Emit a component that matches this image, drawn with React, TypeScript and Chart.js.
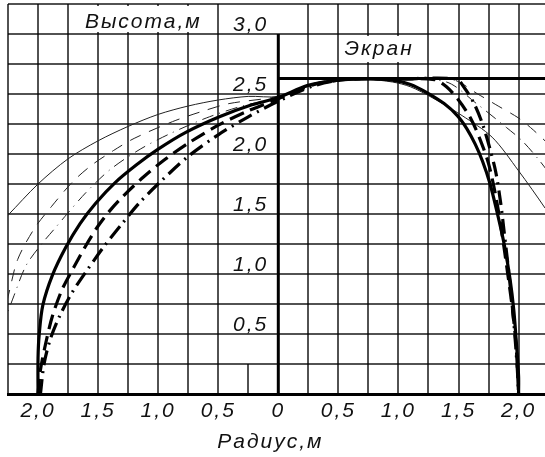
import React, { useEffect, useRef } from "react";
import { Chart, registerables } from "chart.js";

Chart.register(...registerables);

// ---- data (radius r, height h) ----
const thinSolid: [number, number][] = [
  [-2.32, 1.42], [-2.25, 1.49], [-2.0, 1.75], [-1.75, 1.96], [-1.5, 2.11], [-1.25, 2.23],
  [-1.0, 2.33], [-0.75, 2.4], [-0.5, 2.45], [-0.25, 2.48], [0, 2.48], [0.25, 2.57],
  [0.5, 2.61], [0.75, 2.62], [0.95, 2.6], [1.1, 2.56], [1.28, 2.47], [1.53, 2.32],
  [1.78, 2.14], [2.0, 1.86], [2.22, 1.55], [2.3, 1.42],
];
const thinDashed: [number, number][] = [
  [-2.3, 0.6], [-2.24, 0.85], [-2.17, 1.12], [-2.03, 1.38], [-1.89, 1.56], [-1.71, 1.77],
  [-1.55, 1.91], [-1.37, 2.03], [-1.2, 2.13], [-0.88, 2.27], [-0.65, 2.35], [-0.41, 2.42],
  [0, 2.48], [0.3, 2.58], [0.6, 2.62], [1.0, 2.62], [1.45, 2.62], [1.66, 2.5],
  [1.83, 2.4], [2.0, 2.3], [2.1, 2.22], [2.22, 2.11], [2.3, 2.03],
];
const thinDashDot: [number, number][] = [
  [-2.3, 0.55], [-2.2, 0.82], [-2.1, 1.07], [-1.97, 1.25], [-1.86, 1.38], [-1.75, 1.51],
  [-1.6, 1.68], [-1.4, 1.87], [-1.15, 2.04], [-0.9, 2.17], [-0.6, 2.3], [-0.3, 2.4],
  [0, 2.47], [0.3, 2.58], [0.6, 2.62], [1.0, 2.62], [1.4, 2.6], [1.65, 2.42],
  [1.9, 2.22], [2.03, 2.11], [2.17, 1.95], [2.3, 1.78],
];
const thickSolid: [number, number][] = [
  [-2.0, 0], [-2.0, 0.3], [-1.99, 0.5], [-1.96, 0.74], [-1.88, 0.99], [-1.77, 1.22],
  [-1.65, 1.42], [-1.52, 1.59], [-1.36, 1.76], [-1.18, 1.91], [-1.0, 2.04], [-0.77, 2.18],
  [-0.49, 2.31], [-0.22, 2.41], [0, 2.47], [0.24, 2.57], [0.5, 2.615], [0.75, 2.625],
  [0.95, 2.615], [1.1, 2.58], [1.24, 2.51], [1.38, 2.42], [1.49, 2.32], [1.57, 2.21],
  [1.64, 2.08], [1.7, 1.94], [1.76, 1.76], [1.82, 1.52], [1.88, 1.25], [1.93, 0.95],
  [1.96, 0.7], [1.98, 0.45], [2.0, 0.15], [2.0, 0],
];
const thickDashed: [number, number][] = [
  [-2.0, 0], [-1.98, 0.2], [-1.93, 0.45], [-1.88, 0.65], [-1.8, 0.87], [-1.7, 1.06],
  [-1.6, 1.24], [-1.5, 1.4], [-1.4, 1.53], [-1.28, 1.66], [-1.12, 1.81], [-0.95, 1.95],
  [-0.75, 2.09], [-0.5, 2.24], [-0.25, 2.36], [0, 2.46], [0.3, 2.58],
  [0.6, 2.625], [1.0, 2.625], [1.3, 2.62], [1.4, 2.56], [1.5, 2.45], [1.6, 2.3],
  [1.68, 2.12], [1.75, 1.92], [1.81, 1.65], [1.86, 1.35], [1.91, 1.0], [1.95, 0.7],
  [1.98, 0.4], [2.0, 0],
];
const thickDashDot: [number, number][] = [
  [-1.98, 0], [-1.95, 0.25], [-1.9, 0.45], [-1.82, 0.65], [-1.72, 0.84], [-1.6, 1.02],
  [-1.45, 1.23], [-1.3, 1.42], [-1.15, 1.6], [-0.98, 1.77], [-0.75, 1.98], [-0.5, 2.16],
  [-0.25, 2.31], [0, 2.44], [0.3, 2.57], [0.6, 2.625], [1.0, 2.625], [1.48, 2.625],
  [1.55, 2.55], [1.63, 2.42], [1.7, 2.25], [1.76, 2.05], [1.81, 1.85], [1.85, 1.6],
  [1.88, 1.35], [1.92, 1.0], [1.96, 0.6], [1.99, 0.2], [2.0, 0],
];
const screenLine: [number, number][] = [[0, 2.63], [2.3, 2.63]];
const heightAxisLine: [number, number][] = [[0, 0], [0, 3.0]];

const xTickValues = [-2.0, -1.5, -1.0, -0.5, 0, 0.5, 1.0, 1.5, 2.0];
const xTickLabels = ["2,0", "1,5", "1,0", "0,5", "0", "0,5", "1,0", "1,5", "2,0"];
const yTickValues = [0.5, 1.0, 1.5, 2.0, 2.5, 3.0];
const yTickLabels = ["0,5", "1,0", "1,5", "2,0", "2,5", "3,0"];
const xTitle = "Радиус,м";
const yTitle = "Высота,м";
const screenLabel = "Экран";

const GRID_COLOR = "rgba(0,0,0,0.68)";
const FONT = 'italic 21px "Liberation Sans", Arial, sans-serif';

const toXY = (arr: [number, number][]) => arr.map(([x, y]) => ({ x, y }));

function makeTicks(min: number, max: number, step: number) {
  const out: { value: number }[] = [];
  for (let v = min; v <= max + 1e-9; v += step) out.push({ value: Math.round(v * 100) / 100 });
  return out;
}

const overlayPlugin = {
  id: "overlay",
  beforeDatasetsDraw(chart: any) {
    const { ctx, chartArea } = chart;
    const x = chart.scales.x;
    const y = chart.scales.y;
    ctx.save();
    ctx.strokeStyle = GRID_COLOR;
    ctx.lineWidth = 2;
    const px = Math.round(x.getPixelForValue(-0.25));
    ctx.beginPath();
    ctx.moveTo(px, y.getPixelForValue(0));
    ctx.lineTo(px, y.getPixelForValue(0.25));
    ctx.stroke();

    ctx.font = FONT;
    (ctx as any).letterSpacing = "2px";
    ctx.fillStyle = "#111";
    ctx.textBaseline = "alphabetic";

    ctx.textAlign = "right";
    const x0 = x.getPixelForValue(0);
    yTickValues.forEach((v, i) => {
      ctx.fillText(yTickLabels[i], x0 - 10, y.getPixelForValue(v) - 3);
    });

    ctx.textAlign = "center";
    xTickValues.forEach((v, i) => {
      ctx.fillText(xTickLabels[i], x.getPixelForValue(v), chartArea.bottom + 23);
    });

    ctx.fillText(xTitle, x0 - 8, chartArea.bottom + 54);

    ctx.textAlign = "left";
    const yl = x.getPixelForValue(-1.61);
    const yw = ctx.measureText(yTitle).width;
    const yTop = y.getPixelForValue(3.25);
    const y30 = y.getPixelForValue(3.0);
    ctx.fillStyle = "#fff";
    ctx.fillRect(yl - 5, yTop + 2, yw + 10, y30 - yTop - 4);
    ctx.fillStyle = "#111";
    ctx.fillText(yTitle, yl, y30 - 6);

    const sl = x.getPixelForValue(0.55);
    const sw = ctx.measureText(screenLabel).width;
    const y275 = y.getPixelForValue(2.75);
    ctx.fillStyle = "#fff";
    ctx.fillRect(sl - 3, y30 + 2, sw + 4, y275 - y30 - 4);
    ctx.fillStyle = "#111";
    ctx.fillText(screenLabel, sl, y275 - 9);
    ctx.restore();
  },
};

export default function App() {
  const ref = useRef<HTMLCanvasElement>(null);
  useEffect(() => {
    const base = {
      showLine: true,
      pointRadius: 0,
      pointHoverRadius: 0,
      borderColor: "#000",
      backgroundColor: "#000",
      fill: false,
      tension: 0.3,
    };
    const chart = new Chart(ref.current as HTMLCanvasElement, {
      type: "scatter",
      data: {
        datasets: [
          { ...base, label: "screen", data: toXY(screenLine), borderWidth: 3, tension: 0 },
          { ...base, label: "axis", data: toXY(heightAxisLine), borderWidth: 3, tension: 0 },
          { ...base, label: "thickSolid", data: toXY(thickSolid), borderWidth: 3.2 },
          { ...base, label: "thickDashed", data: toXY(thickDashed), borderWidth: 3.2, borderDash: [15, 7] },
          { ...base, label: "thickDashDot", data: toXY(thickDashDot), borderWidth: 3.2, borderDash: [15, 6, 2, 6] },
          { ...base, label: "thinSolid", data: toXY(thinSolid), borderWidth: 1, borderColor: "#222" },
          { ...base, label: "thinDashed", data: toXY(thinDashed), borderWidth: 1, borderColor: "#222", borderDash: [12, 9] },
          { ...base, label: "thinDashDot", data: toXY(thinDashDot), borderWidth: 1, borderColor: "#222", borderDash: [12, 6, 1, 6] },
        ],
      },
      options: {
        responsive: false,
        devicePixelRatio: 1,
        animation: false,
        events: [],
        layout: { padding: { left: 8, top: 4, right: 0, bottom: 63 } },
        plugins: { legend: { display: false }, tooltip: { enabled: false }, title: { display: false } },
        scales: {
          x: {
            type: "linear",
            min: -2.25,
            max: 2.22,
            afterBuildTicks: (scale: any) => {
              scale.ticks = makeTicks(-2.25, 2.0, 0.25);
            },
            grid: {
              drawTicks: false,
              lineWidth: 2,
              color: (c: any) => {
                const v = c.tick ? c.tick.value : NaN;
                if (Math.abs(v) < 1e-9 || Math.abs(v + 0.25) < 1e-9) return "rgba(0,0,0,0)";
                return GRID_COLOR;
              },
            },
            border: { display: true, color: "#000", width: 3 },
            ticks: { display: false },
          },
          y: {
            type: "linear",
            min: 0,
            max: 3.25,
            afterBuildTicks: (scale: any) => {
              scale.ticks = makeTicks(0, 3.25, 0.25);
            },
            grid: { drawTicks: false, lineWidth: 2, color: GRID_COLOR },
            border: { display: false },
            ticks: { display: false },
          },
        },
      } as any,
      plugins: [overlayPlugin],
    });
    return () => chart.destroy();
  }, []);
  return (
    <div style={{ position: "fixed", left: 0, top: 0, width: 545, height: 457, background: "#fff" }}>
      <canvas ref={ref} width={545} height={457} style={{ display: "block", width: 545, height: 457 }} />
    </div>
  );
}
